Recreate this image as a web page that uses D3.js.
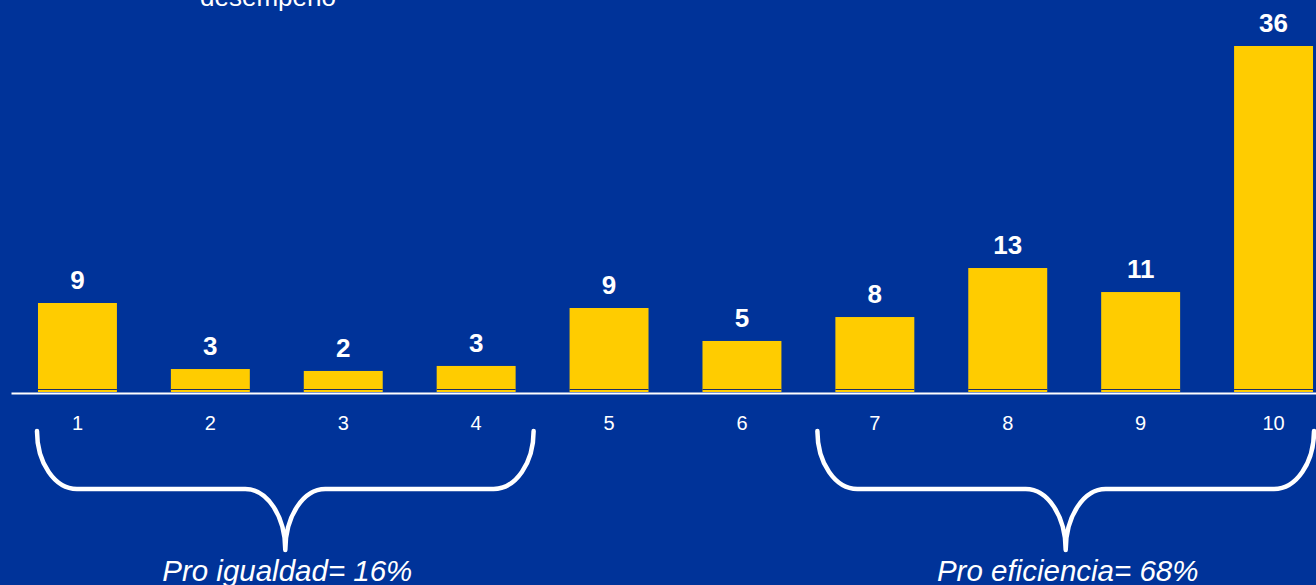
<!DOCTYPE html>
<html>
<head>
<meta charset="utf-8">
<script src="https://cdn.jsdelivr.net/npm/d3@7"></script>
<style>
  html, body { margin: 0; padding: 0; background: #003399; }
  svg { display: block; }
</style>
</head>
<body>
<script>
// ---- data ----
const categories = ["1", "2", "3", "4", "5", "6", "7", "8", "9", "10"];
const values = [9.26, 2.39, 2.19, 2.71, 8.74, 5.31, 7.80, 12.90, 10.40, 36];
const valueLabels = ["9", "3", "2", "3", "9", "5", "8", "13", "11", "36"];
const groupLabels = ["Pro igualdad= 16%", "Pro eficiencia= 68%"];
const groupFrom = ["1", "7"];
const groupTo = ["4", "10"];
const titleFragment = "desempeño";

// ---- layout ----
const W = 1316, H = 585;
const font = "'Liberation Sans', Arial, sans-serif";

const svg = d3.select("body").append("svg")
  .attr("width", W).attr("height", H);

svg.append("rect").attr("width", W).attr("height", H).attr("fill", "#003399");

const x = d3.scaleBand().domain(categories)
  .range([11, 1340]).paddingInner(0.406).paddingOuter(0.203);
const y = d3.scaleLinear().domain([0, 36]).range([392, 46]);

// clipped title fragment at the top
svg.append("text")
  .attr("x", 200).attr("y", 6)
  .attr("font-family", font).attr("font-size", 26)
  .attr("fill", "#ffffff")
  .text(titleFragment);

// bars
const bars = svg.append("g");
bars.selectAll("rect").data(values).join("rect")
  .attr("x", (d, i) => x(categories[i]))
  .attr("width", x.bandwidth())
  .attr("y", d => y(d))
  .attr("height", d => y(0) - y(d))
  .attr("fill", "#ffcc00");

// thin dark line inside bars near the base
bars.selectAll("line").data(values).join("line")
  .attr("x1", (d, i) => x(categories[i]))
  .attr("x2", (d, i) => x(categories[i]) + x.bandwidth())
  .attr("y1", y(0) - 2.5).attr("y2", y(0) - 2.5)
  .attr("stroke", "#1f2f66").attr("stroke-width", 1.2);

// value labels
svg.append("g").selectAll("text").data(values).join("text")
  .attr("x", (d, i) => x(categories[i]) + x.bandwidth() / 2)
  .attr("y", d => y(d) - 14)
  .attr("text-anchor", "middle")
  .attr("font-family", font).attr("font-size", 26).attr("font-weight", "bold")
  .attr("fill", "#ffffff")
  .text((d, i) => valueLabels[i]);

// x axis
const axis = svg.append("g")
  .attr("transform", `translate(0,${y(0) + 1})`)
  .call(d3.axisBottom(x).tickSize(0).tickSizeOuter(0));
axis.select(".domain").attr("stroke", "#ffffff").attr("stroke-width", 2);
axis.selectAll(".tick text")
  .attr("y", 37).attr("dy", 0)
  .attr("font-family", font).attr("font-size", 20)
  .attr("fill", "#ffffff");

// braces
const yTop = 431, yMid = 489, yTip = 550;
const armR = 40, tipR = 40, k = 0.552;
const pads = [[1, 18], [18, 1]];
function bracePath(xl, xr) {
  const xm = (xl + xr) / 2;
  const h1 = yMid - yTop, h2 = yTip - yMid;
  return [
    `M${xl},${yTop}`,
    `C${xl},${yTop + k * h1} ${xl + armR - k * armR},${yMid} ${xl + armR},${yMid}`,
    `L${xm - tipR},${yMid}`,
    `C${xm - tipR + k * tipR},${yMid} ${xm},${yTip - k * h2} ${xm},${yTip}`,
    `C${xm},${yTip - k * h2} ${xm + tipR - k * tipR},${yMid} ${xm + tipR},${yMid}`,
    `L${xr - armR},${yMid}`,
    `C${xr - armR + k * armR},${yMid} ${xr},${yTop + k * h1} ${xr},${yTop}`
  ].join(" ");
}
groupLabels.forEach((lab, i) => {
  const xl = x(groupFrom[i]) - pads[i][0];
  const xr = x(groupTo[i]) + x.bandwidth() + pads[i][1];
  svg.append("path")
    .attr("d", bracePath(xl, xr))
    .attr("fill", "none").attr("stroke", "#ffffff")
    .attr("stroke-width", 4.5).attr("stroke-linecap", "round")
    .attr("stroke-linejoin", "round");
  svg.append("text")
    .attr("x", (xl + xr) / 2 + 2).attr("y", 581)
    .attr("text-anchor", "middle")
    .attr("font-family", font).attr("font-size", 29.5).attr("font-style", "italic")
    .attr("fill", "#ffffff")
    .text(lab);
});
</script>
</body>
</html>
